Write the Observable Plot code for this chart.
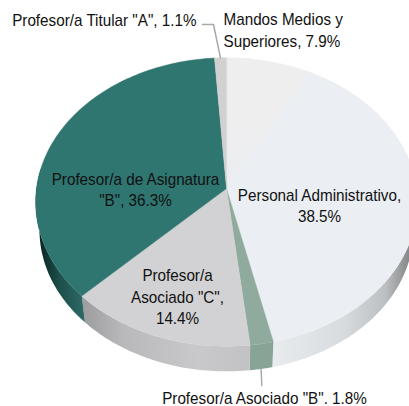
<!DOCTYPE html>
<html><head><meta charset="utf-8">
<style>html,body{margin:0;padding:0;background:#fff}svg{display:block}</style>
<script src="https://cdn.jsdelivr.net/npm/d3@7"></script>
<script src="https://cdn.jsdelivr.net/npm/@observablehq/plot@0.6"></script>
</head><body>
<script>
const categories = ["Mandos Medios y Superiores","Personal Administrativo","Profesor/a Asociado \"B\"","Profesor/a Asociado \"C\"","Profesor/a de Asignatura \"B\"","Profesor/a Titular \"A\""];
const values = [7.9,38.5,1.8,14.4,36.3,1.1];
const topColors = ["url(#topMandos)","#ebeef3","#8fab9d","#d2d1d3","#2f7570","#d1d1d1"];
const sideFills = ["#e9ecee","url(#sideAdmin)","#87a596","url(#sideC)","url(#sideB)","#cccccc"];
const labelTexts = ["Mandos Medios y\nSuperiores, 7.9%","Personal Administrativo,\n38.5%","Profesor/a Asociado \"B\". 1.8%","Profesor/a\nAsociado \"C\",\n14.4%","Profesor/a de Asignatura\n\"B\", 36.3%","Profesor/a Titular \"A\", 1.1%"];
const W=409,H=406;
const k=0.0935, depth=0.2, innerR=0.98;
const project=(deg,r=1,drop=0)=>{const a=deg*Math.PI/180,u=r*Math.sin(a),v=r*Math.cos(a),w=1+k*v;return {x:u/w,y:-v/w+drop};};
let cum=0;
const total=d3.sum(values);
const slices=values.map((v,i)=>{const s=cum/total*360;cum+=v;return {i,s,e:cum/total*360,mid:(s+v/total*180)};});
const arc=(s,e)=>{const n=Math.max(2,Math.ceil(e-s));return d3.range(n+1).map(j=>s+(e-s)*j/n);};
const topPts=slices.flatMap(d=>[{...project(0,0),id:d.i},...arc(d.s,d.e).map(a=>({...project(a),id:d.i}))]);
const sidePts=slices.flatMap(d=>{const s=Math.max(d.s,82),e=Math.min(d.e,278);if(e<=s)return [];const as=arc(s,e);
  return [...as.map(a=>({...project(a),id:d.i})),...as.slice().reverse().map(a=>({...project(a,innerR,depth),id:d.i}))];});
const xPix=[226,190],yPix=[188,143];
const ux=p=>(p-xPix[0])/xPix[1], uy=p=>(p-yPix[0])/yPix[1];
const defs=()=>{const s=d3.create("svg:defs");
  const g=(id,stops,vertical)=>{const l=s.append("linearGradient").attr("id",id).attr("x1",0).attr("x2",vertical?0:1).attr("y1",0).attr("y2",vertical?1:0);
    stops.forEach(([o,c])=>l.append("stop").attr("offset",o).attr("stop-color",c));};
  g("sideAdmin",[[0,"#e9ecee"],[.5,"#d8dbdd"],[.78,"#bcbfc1"],[.93,"#8a8c8e"],[1,"#707274"]]);
  g("sideC",[[0,"#9c9c9e"],[.25,"#b9b9bb"],[.7,"#c9c9cb"],[1,"#c2c2c4"]]);
  g("sideB",[[0,"#081a18"],[.15,"#0e2d2a"],[.5,"#1d504c"],[1,"#2e6a65"]]);
  g("topMandos",[[0,"#eeeeee"],[.5,"#eeeeef"],[1,"#ebedf1"]],true);
  return s.node();};
const labelPos=[
  {x:ux(223),y:uy(28.5),anchor:"start"},
  {x:ux(319),y:uy(204),anchor:"middle"},
  {x:ux(264),y:uy(396),anchor:"middle"},
  {x:ux(177),y:uy(295),anchor:"middle"},
  {x:ux(135),y:uy(188),anchor:"middle"},
  {x:ux(196),y:uy(18),anchor:"end"}];
const labels=labelTexts.map((t,i)=>({t,...labelPos[i]}));
const leader=[{id:0,x:ux(202),y:uy(24)},{id:0,x:ux(213),y:uy(24)},{id:0,...project(slices[5].mid)},
  {id:1,...project(slices[2].mid,innerR,depth)},{id:1,x:project(slices[2].mid).x,y:uy(385)}];
const plot=Plot.plot({width:W,height:H,margin:0,
  x:{domain:[ux(0),ux(W)],range:[0,W],axis:null},
  y:{domain:[uy(0),uy(H)],range:[0,H],axis:null},
  marks:[
    defs,
    ...slices.map(d=>Plot.line(sidePts.filter(p=>p.id===d.i),{x:"x",y:"y",fill:sideFills[d.i],stroke:null,curve:"linear-closed"})),
    ...slices.map(d=>Plot.line(topPts.filter(p=>p.id===d.i),{x:"x",y:"y",fill:topColors[d.i],stroke:topColors[d.i],strokeWidth:0.4,curve:"linear-closed"})),
    Plot.line(leader,{x:"x",y:"y",z:"id",stroke:"#a9a9a9",strokeWidth:1.5}),
    ...["start","middle","end"].map(a=>Plot.text(labels.filter(l=>l.anchor===a),{x:"x",y:"y",text:"t",textAnchor:a,fontFamily:"Liberation Sans",fontSize:16,lineHeight:1.37,fill:"#111111"}))
  ]});
plot.querySelectorAll("text").forEach(t=>{const tr=t.getAttribute("transform")||"";t.setAttribute("transform",tr+" scale(0.953,1)");});
document.body.append(plot);
</script></body></html>
